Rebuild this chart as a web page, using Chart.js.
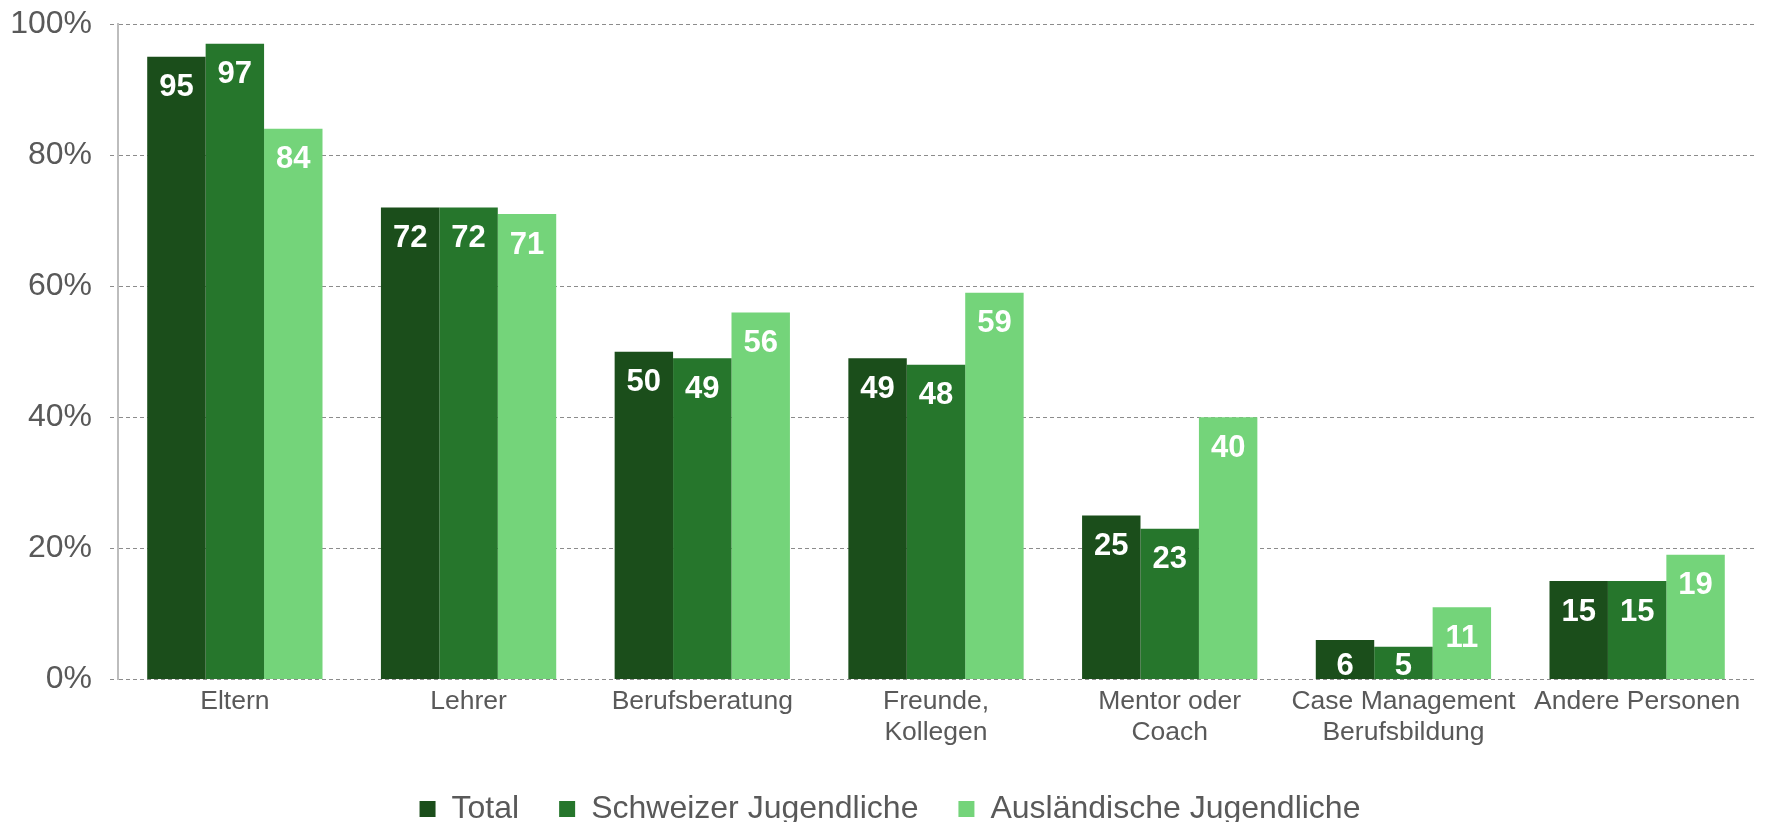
<!DOCTYPE html>
<html lang="de">
<head>
  <meta charset="UTF-8" />
  <title>Unterstützung bei der Berufswahl</title>
  <script src="https://cdn.jsdelivr.net/npm/chart.js"></script>
  <style>
    html, body { margin: 0; padding: 0; background: #ffffff; overflow: hidden; }
    .chart-box { position: relative; width: 1767px; height: 840px; }
  </style>
</head>
<body>
  <div class="chart-box">
    <canvas id="barChart"></canvas>
  </div>

<script>
  const categories = [
    "Eltern",
    "Lehrer",
    "Berufsberatung",
    ["Freunde,", "Kollegen"],
    ["Mentor oder", "Coach"],
    ["Case Management", "Berufsbildung"],
    "Andere Personen"
  ];
  const totalValues = [95, 72, 50, 49, 25, 6, 15];
  const schweizerValues = [97, 72, 49, 48, 23, 5, 15];
  const auslaendischeValues = [84, 71, 56, 59, 40, 11, 19];
  const yTicks = [0, 20, 40, 60, 80, 100];

  const textGrey = "#595959";
  const fontName = "'Liberation Sans', Arial, sans-serif";

  // white value labels inside the top of each bar
  const valueLabels = {
    id: "valueLabels",
    afterLayout(chart) {
      // legend sits a bit right of the canvas centre in the original
      chart.legend.left += 17;
    },
    afterDatasetsDraw(chart) {
      const ctx = chart.ctx;
      ctx.save();
      ctx.fillStyle = "#ffffff";
      ctx.font = "bold 31px " + fontName;
      ctx.textAlign = "center";
      ctx.textBaseline = "middle";
      chart.data.datasets.forEach((ds, di) => {
        chart.getDatasetMeta(di).data.forEach((bar, i) => {
          const cy = Math.min(bar.y + 31, bar.base - 12);
          ctx.fillText(String(ds.data[i]), bar.x, cy);
        });
      });
      ctx.restore();
    }
  };

  new Chart(document.getElementById("barChart"), {
    type: "bar",
    data: {
      labels: categories,
      datasets: [
        { label: "Total", data: totalValues, backgroundColor: "#1b4e1b" },
        { label: "Schweizer Jugendliche", data: schweizerValues, backgroundColor: "#26762c" },
        { label: "Ausländische Jugendliche", data: auslaendischeValues, backgroundColor: "#74d47a" }
      ]
    },
    options: {
      responsive: true,
      maintainAspectRatio: false,
      animation: false,
      categoryPercentage: 0.75,
      barPercentage: 1,
      layout: { padding: { top: 24, left: 9, right: 13, bottom: 5 } },
      plugins: {
        tooltip: { enabled: false },
        legend: {
          position: "bottom",
          labels: {
            color: textGrey,
            font: { family: fontName, size: 32 },
            boxWidth: 16,
            boxHeight: 16,
            padding: 40
          }
        }
      },
      scales: {
        x: {
          grid: { display: false, drawTicks: false },
          border: { display: false },
          ticks: {
            color: textGrey,
            font: { family: fontName, size: 26.5, lineHeight: 1.2 },
            padding: 6,
            maxRotation: 0,
            autoSkip: false
          },
          afterFit(scale) { scale.height -= 2; }
        },
        y: {
          min: 0,
          max: 100,
          afterBuildTicks(axis) {
            axis.ticks = yTicks.map(v => ({ value: v }));
          },
          afterFit(scale) {
            scale.width = 109;
            scale.paddingTop = 0;
            scale.paddingBottom = 0;
          },
          grid: {
            color: "#8c8c8c",
            lineWidth: 1,
            tickLength: 8,
            tickColor: "#8c8c8c",
            tickBorderDash: [4, 3]
          },
          border: { display: true, color: "#bdbdbd", width: 2, dash: [4, 3] },
          ticks: {
            color: textGrey,
            font: { family: fontName, size: 32 },
            padding: 18,
            callback: v => v + "%"
          }
        }
      }
    },
    plugins: [valueLabels]
  });
</script>
</body>
</html>
